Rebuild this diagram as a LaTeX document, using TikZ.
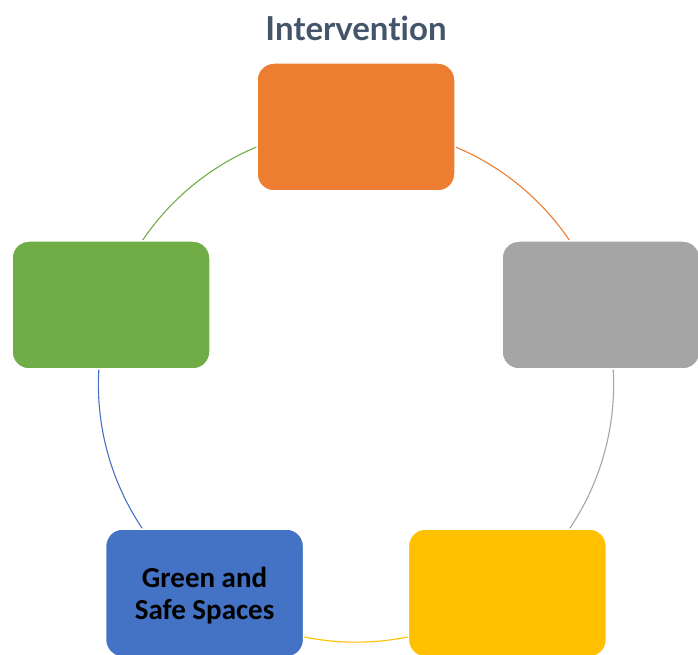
\documentclass[tikz,border=0pt]{standalone}
\usepackage{fontspec}
\setmainfont{Carlito}
\newfontfamily\titlefont[Ligatures=NoCommon]{Lato}
\usetikzlibrary{backgrounds}

\definecolor{OrangeBox}{HTML}{ED7D31}
\definecolor{GreyBox}{HTML}{A5A5A5}
\definecolor{GoldBox}{HTML}{FFC000}
\definecolor{BlueBox}{HTML}{4472C4}
\definecolor{GreenBox}{HTML}{70AD47}
\definecolor{TitleInk}{HTML}{44546A}

\begin{document}
\begin{tikzpicture}[x=1pt,y=1pt,
    box/.style={rectangle, rounded corners=17pt, draw=white, line width=1.5pt,
      minimum width=198pt, minimum height=128pt, inner sep=0pt, align=center,
      font=\bfseries\fontsize{29}{32}\selectfont},
    ring/.style={line width=1.1pt}]

      \useasboundingbox (0,0) rectangle (698,655);
      \coordinate (Center) at (356,270.4);

      \node (Title) [anchor=base, text=TitleInk, font=\titlefont\bfseries\fontsize{33}{38}\selectfont]
        at (356,614) {Intervention};

      %% the five boxes round the ring
      \node (Orange) [box, fill=OrangeBox] at ([shift={(90:257.6)}]Center) {};
      \node (Grey) [box, fill=GreyBox] at ([shift={(18:257.6)}]Center) {};
      \node (Gold) [box, fill=GoldBox] at ([shift={(-54:257.6)}]Center) {};
      \node (Blue) [box, fill=BlueBox, text depth=-2pt] at ([shift={(-126:257.6)}]Center) {Green and\\Safe Spaces};
      \node (Green) [box, fill=GreenBox] at ([shift={(162:257.6)}]Center) {};

      %% ring arcs, box to box
      \begin{pgfonlayer}{background}
        \draw[ring, OrangeBox] (Orange.center) arc[start angle=90, end angle=18, radius=257.6];
        \draw[ring, GreyBox] (Grey.center) arc[start angle=18, end angle=-54, radius=257.6];
        \draw[ring, GoldBox] (Gold.center) arc[start angle=-54, end angle=-126, radius=257.6];
        \draw[ring, BlueBox] (Blue.center) arc[start angle=-126, end angle=-198, radius=257.6];
        \draw[ring, GreenBox] (Green.center) arc[start angle=162, end angle=90, radius=257.6];
      \end{pgfonlayer}

\end{tikzpicture}
\end{document}
